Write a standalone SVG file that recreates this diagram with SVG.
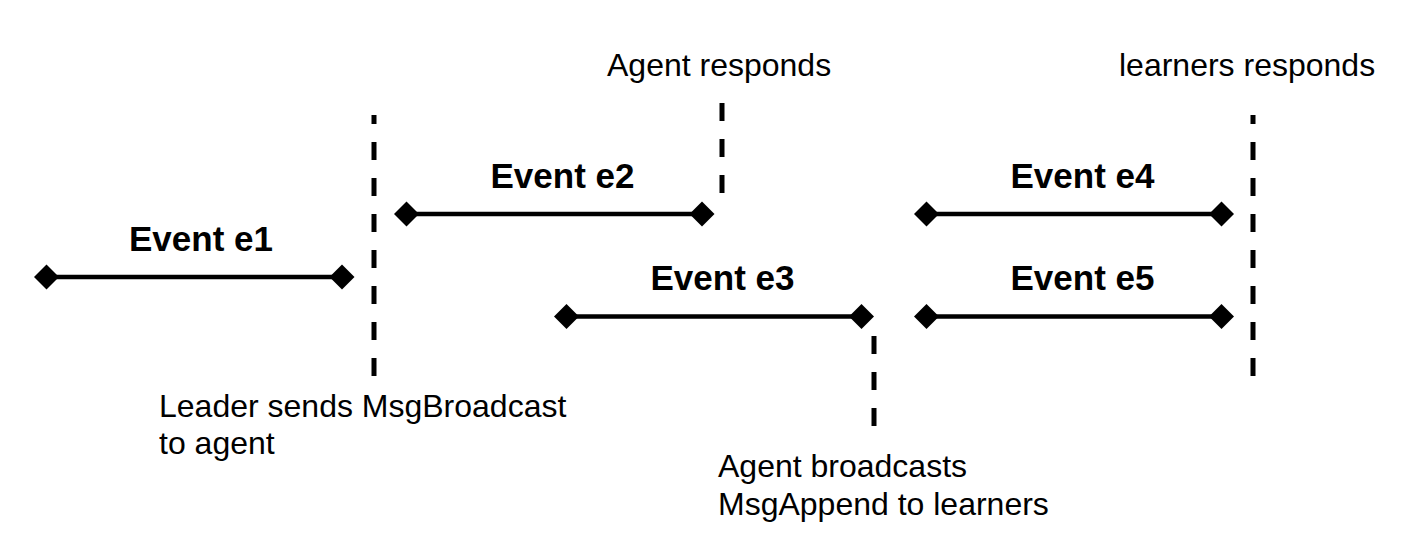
<svg xmlns="http://www.w3.org/2000/svg" width="1412" height="554" viewBox="0 0 1412 554">
  <defs>
    <marker id="dia" viewBox="-13 -13 26 26" markerWidth="26" markerHeight="26" markerUnits="userSpaceOnUse" refX="0" refY="0" orient="auto">
      <path d="M-12.5 0 L0 -12.5 L12.5 0 L0 12.5 Z" fill="#000"/>
    </marker>
    <style>
      .ev { stroke:#000; stroke-width:4.5; fill:none; marker-start:url(#dia); marker-end:url(#dia); }
      .dash { stroke:#000; stroke-width:5; fill:none; stroke-dasharray:18 18; }
      .lbl { font-family:"Liberation Sans", Arial, Helvetica, sans-serif; font-size:35px; font-weight:bold; fill:#000; text-anchor:middle; }
      .note { font-family:"Liberation Sans", Arial, Helvetica, sans-serif; font-size:32px; fill:#000; }
    </style>
  </defs>
  <rect width="1412" height="554" fill="#fff"/>
  <g id="connectors">
    <line class="dash" x1="374" y1="115" x2="374" y2="376" style="stroke-dashoffset:9"/>
    <line class="dash" x1="722" y1="103" x2="722" y2="195"/>
    <line class="dash" x1="874" y1="336" x2="874" y2="426"/>
    <line class="dash" x1="1253" y1="115" x2="1253" y2="376" style="stroke-dashoffset:9"/>
  </g>
  <g id="e1">
    <line class="ev" x1="46.5" y1="277" x2="342" y2="277"/>
    <text class="lbl" x="201" y="251">Event e1</text>
  </g>
  <g id="e2">
    <line class="ev" x1="406.5" y1="214" x2="702" y2="214"/>
    <text class="lbl" x="562.5" y="188">Event e2</text>
  </g>
  <g id="e3">
    <line class="ev" x1="566.5" y1="316.5" x2="861.5" y2="316.5"/>
    <text class="lbl" x="722.5" y="290">Event e3</text>
  </g>
  <g id="e4">
    <line class="ev" x1="926.5" y1="214" x2="1221.5" y2="214"/>
    <text class="lbl" x="1082.5" y="188">Event e4</text>
  </g>
  <g id="e5">
    <line class="ev" x1="926.5" y1="316.5" x2="1221.5" y2="316.5"/>
    <text class="lbl" x="1082.5" y="290">Event e5</text>
  </g>
  <g id="note-agent-responds">
    <text class="note" x="607" y="76">Agent responds</text>
  </g>
  <g id="note-learners-responds">
    <text class="note" x="1119" y="76">learners responds</text>
  </g>
  <g id="note-leader">
    <text class="note" x="159" y="417">Leader sends MsgBroadcast</text>
    <text class="note" x="159" y="454">to agent</text>
  </g>
  <g id="note-agent-broadcasts">
    <text class="note" x="718" y="477">Agent broadcasts</text>
    <text class="note" x="718" y="515">MsgAppend to learners</text>
  </g>
</svg>
